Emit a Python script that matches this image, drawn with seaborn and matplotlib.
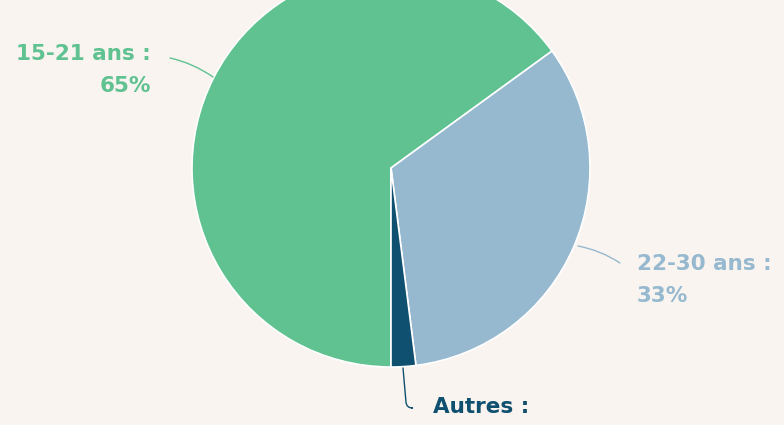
import numpy as np
import matplotlib
matplotlib.use("Agg")
import matplotlib.pyplot as plt
import seaborn as sns

labels = ["15-21 ans", "22-30 ans", "Autres"]
values = [65, 33, 2]
colors = ["#5fc290", "#96b9cf", "#0f5070"]

sns.set_theme(style="white")
plt.rcParams['font.family'] = ['DejaVu Sans']
bg = "#f9f4f0"

W, H = 784, 425
cx, cy, R = 391, 168, 199
fig = plt.figure(figsize=(W / 100, H / 100), dpi=100, facecolor=bg)
ax = fig.add_axes([0, 0, 1, 1])
ax.set_facecolor(bg)

wedges, _ = ax.pie(values, colors=colors, startangle=-90, counterclock=False,
                   radius=1, center=(0, 0),
                   wedgeprops=dict(edgecolor="white", linewidth=1.2))
ax.set_xlim(-cx / R, (W - cx) / R)
ax.set_ylim(-(H - cy) / R, cy / R)
ax.set_aspect("equal")
ax.axis("off")

def px(x, y):
    return ((x - cx) / R, (cy - y) / R)

# (line-1 anchor px, ha, wedge point px, line end px, connection)
layout = [
    (px(151, 52), "right", px(213, 77), px(170, 58), "arc3,rad=-0.1"),
    (px(637, 262), "left", px(578, 246), px(620, 263), "arc3,rad=0.1"),
    (px(433, 405), "left", px(403, 368), px(412, 408), "angle,angleA=180,angleB=95,rad=6"),
]
for (lab, val, col, (tpos, ha, anchor, lend, conn)) in zip(labels, values, colors, layout):
    ax.annotate("", xy=anchor, xytext=lend,
                arrowprops=dict(arrowstyle="-", color=col, lw=1,
                                shrinkA=0, shrinkB=0,
                                connectionstyle=conn))
    ax.text(tpos[0], tpos[1], f"{lab} :", ha=ha, va="center_baseline",
            color=col, fontsize=15.5, fontweight="bold")
    ax.text(tpos[0], tpos[1] - 32 / R, f"{val}%", ha=ha, va="center_baseline",
            color=col, fontsize=15.5, fontweight="bold")

fig.savefig("out.png", dpi=100, facecolor=bg)
